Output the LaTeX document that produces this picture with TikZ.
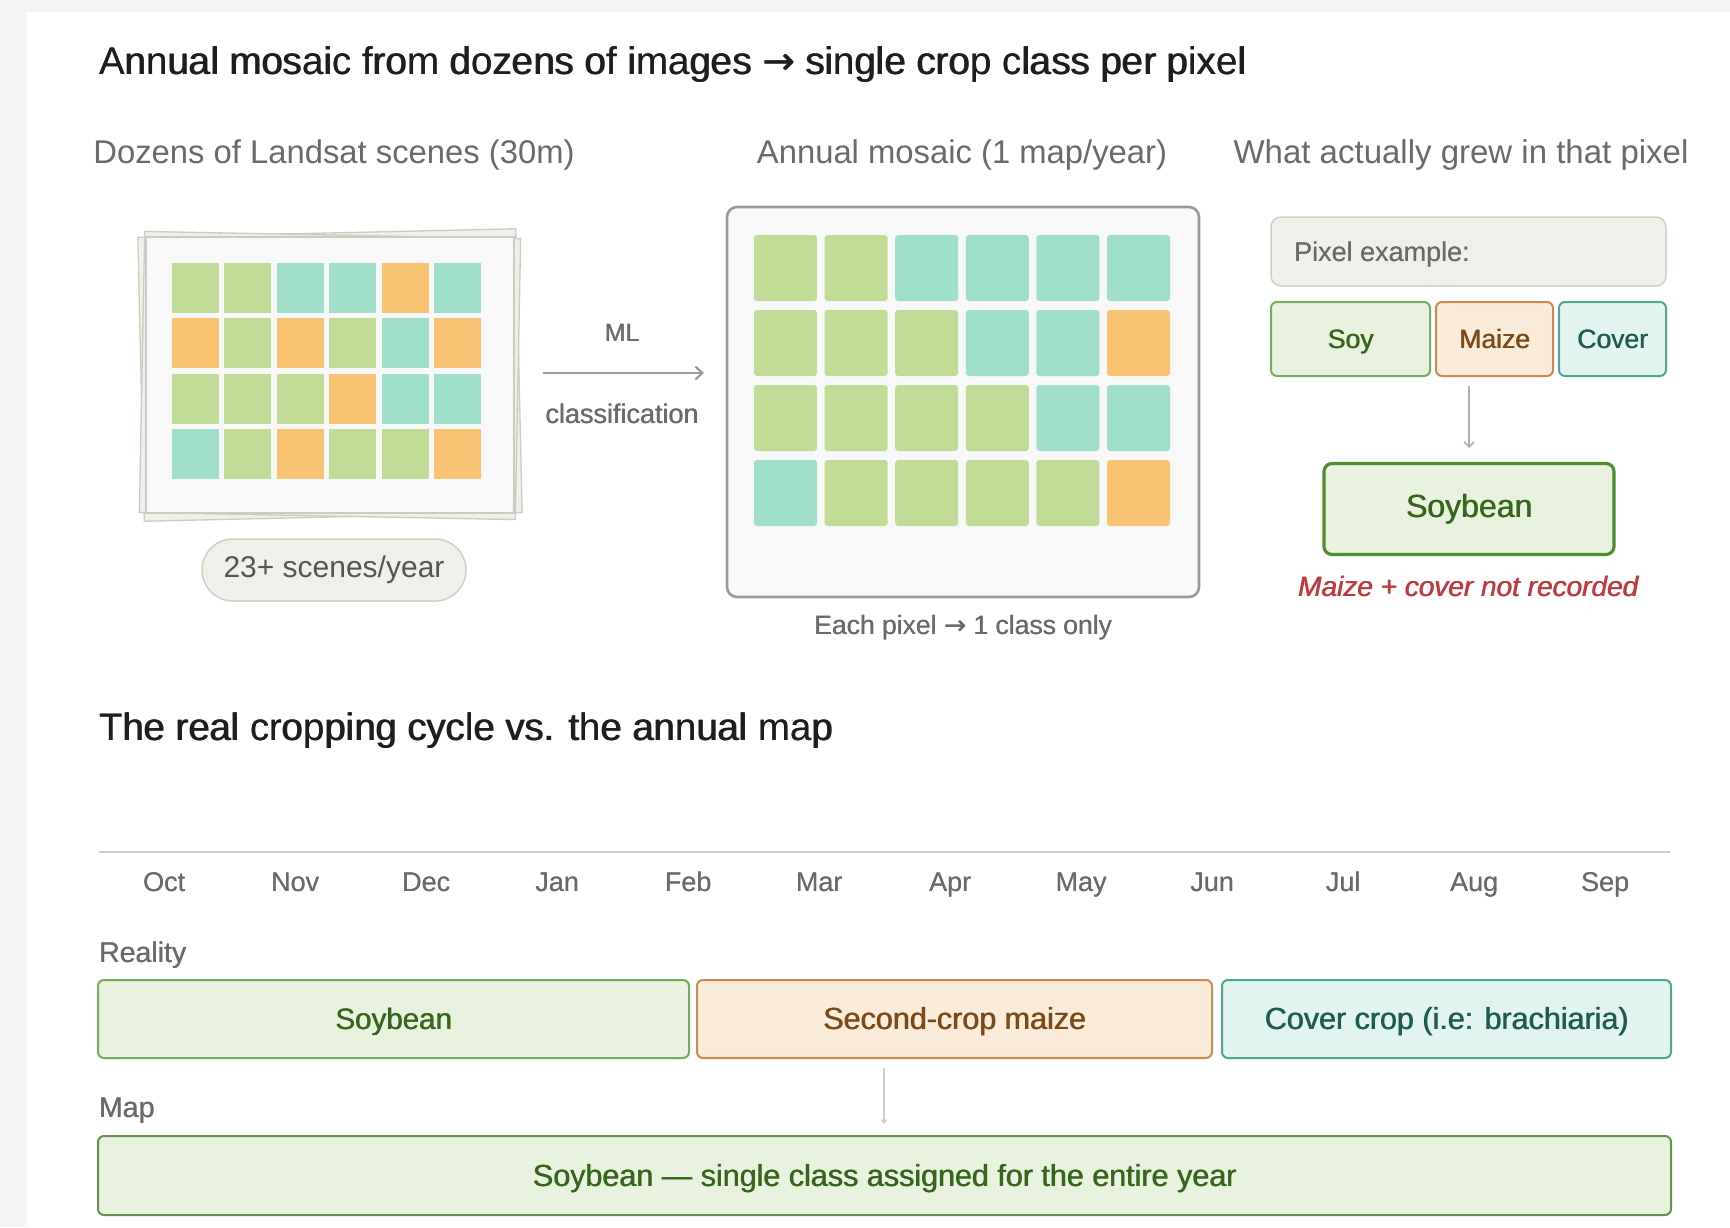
\documentclass[tikz,border=0pt]{standalone}
\usepackage{fontspec}
\setmainfont{Liberation Sans}
\newfontface\arrowfont{DejaVu Sans}
\newcommand{\rarr}{{\arrowfont →}}
\newcommand{\md}[1]{\rlap{\kern0.7pt #1}#1}
\newcommand{\mdl}[1]{\rlap{\kern0.45pt #1}#1}
\usetikzlibrary{arrows.meta}
\newcommand{\fs}[1]{\fontsize{#1}{#1}\selectfont}
\definecolor{bgout}{HTML}{F4F4F3}
\definecolor{cG}{HTML}{C0DC96}
\definecolor{cT}{HTML}{A0E0CA}
\definecolor{cO}{HTML}{F8C474}
\definecolor{tdark}{HTML}{1E1E1E}
\definecolor{tgray}{HTML}{6A6A6A}
\definecolor{cardfill}{HTML}{F8F8F8}
\definecolor{cardline}{HTML}{CFCAC2}
\definecolor{boxline}{HTML}{9A9A9A}
\definecolor{beigefill}{HTML}{F1EFE9}
\definecolor{beigeline}{HTML}{D3CFC6}
\definecolor{soyfill}{HTML}{E9F2DE}
\definecolor{soyline}{HTML}{74AE5C}
\definecolor{soydark}{HTML}{4E8E2E}
\definecolor{soytext}{HTML}{36661C}
\definecolor{maizefill}{HTML}{FBECD9}
\definecolor{maizeline}{HTML}{CC8A50}
\definecolor{maizetext}{HTML}{7A4A18}
\definecolor{coverfill}{HTML}{E1F4EF}
\definecolor{coverline}{HTML}{55A594}
\definecolor{covertext}{HTML}{1F5C50}
\definecolor{redtext}{HTML}{BE3A3C}
\definecolor{arrgray}{HTML}{9C9C9C}
\definecolor{linegray}{HTML}{CDCDCD}
\begin{document}
\begin{tikzpicture}[x=1pt,y=-1pt,
  every node/.style={inner sep=0pt, outer sep=0pt},
  lbl/.style={text=tgray},
  soybox/.style={draw=soyline, fill=soyfill, line width=2pt, rounded corners=6pt, text=soytext},
  maizebox/.style={draw=maizeline, fill=maizefill, line width=2pt, rounded corners=6pt, text=maizetext},
  coverbox/.style={draw=coverline, fill=coverfill, line width=2pt, rounded corners=6pt, text=covertext},
  arr/.style={draw=arrgray, line width=2.2pt, -{Straight Barb[length=7pt,width=13pt,line width=2.2pt]}},
  thinarr/.style={draw=linegray, line width=1.6pt, -{Straight Barb[length=3pt,width=5pt]}}
]
\useasboundingbox (0,0) rectangle (1730,1227);
\fill[bgout] (0,0) rectangle (1730,1227);
\fill[white] (27,12) rectangle (1730,1227);

% ---- title and sub-headings
\node[anchor=mid west, text=tdark, font=\fs{38.5}] (title) at (99,72)
  {\md{Annual mosaic from dozens of images \rarr{} single crop class per pixel}};
\node[lbl, anchor=mid, font=\fs{32.8}] (h1) at (334,161) {Dozens of Landsat scenes (30m)};
\node[lbl, anchor=mid, font=\fs{32.8}] (h2) at (962,161) {Annual mosaic (1 map/year)};
\node[lbl, anchor=mid, font=\fs{33}] (h3) at (1461,161) {What actually grew in that pixel};

% ---- stack of scenes
\draw[cardline, fill=beigefill, line width=1.3pt, rotate around={1.3:(330,375)}] (141,233) rectangle (519,517);
\draw[cardline, fill=beigefill, line width=1.3pt, rotate around={-1.1:(330,375)}] (142,235) rectangle (518,516);
\node[draw=cardline, fill=cardfill, line width=1.3pt, minimum width=368pt, minimum height=276pt] (scenes) at (330,375) {};
\foreach \row [count=\j from 0] in {{G,G,T,T,O,T},{O,G,O,G,T,O},{G,G,G,O,T,T},{T,G,O,G,G,O}}{
  \foreach \c [count=\i from 0] in \row {
    \fill[c\c] ({172+52.4*\i},{263+55.4*\j}) rectangle ++(47,50);
  }
}
\node[draw=beigeline, fill=beigefill, line width=1.5pt, rounded corners=31pt,
  minimum width=264pt, minimum height=62pt, text=tgray!80!black, font=\fs{30}] (badge) at (334,570) {23+ scenes/year};

% ---- ML arrow
\coordinate (mlA) at (543,373);
\coordinate (mlB) at (704,373);
\draw[arr] (mlA) -- (mlB);
\node[lbl, font=\fs{25}, anchor=mid] (ml) at (622,339) {\mdl{ML}};
\node[lbl, font=\fs{27}, anchor=mid] (cls) at (622,421) {\mdl{classification}};

% ---- annual mosaic
\node[draw=boxline, fill=cardfill, line width=2.6pt, rounded corners=10pt,
  minimum width=472pt, minimum height=390pt] (mosaic) at (963,402) {};
\foreach \row [count=\j from 0] in {{G,G,T,T,T,T},{G,G,G,T,T,O},{G,G,G,G,T,T},{T,G,G,G,G,O}}{
  \foreach \c [count=\i from 0] in \row {
    \fill[c\c, rounded corners=3pt] ({754+70.6*\i},{235+75*\j}) rectangle ++(63,66);
  }
}
\node[lbl, font=\fs{26.5}, anchor=mid] (each) at (963,632) {\mdl{Each pixel \rarr{} 1 class only}};

% ---- pixel example
\node[draw=beigeline, fill=beigefill, line width=1.5pt, rounded corners=10pt,
  minimum width=395pt, minimum height=69pt] (pix) at (1468.5,251.5) {};
\node[lbl, font=\fs{27}, anchor=mid west] (pixt) at (1294,259) {\mdl{Pixel example:}};
\node[soybox, minimum width=159pt, minimum height=74pt, text height=19pt, text depth=0pt, font=\fs{26.5}] (soy) at (1350.5,339) {\md{Soy}};
\node[maizebox, minimum width=117pt, minimum height=74pt, text height=19pt, text depth=0pt, font=\fs{26.5}] (maize) at (1494.5,339) {\md{Maize}};
\node[coverbox, minimum width=107pt, minimum height=74pt, text height=19pt, text depth=0pt, font=\fs{26.5}] (cover) at (1612.5,339) {\md{Cover}};
\node[soybox, draw=soydark, line width=3.2pt, rounded corners=8pt, minimum width=290pt, minimum height=91pt,
  font=\fs{32}] (soybig) at (1469,509) {\md{Soybean}};
\coordinate (pxA) at (1469,386);
\coordinate (pxB) at (1469,448);
\draw[draw=arrgray!80, line width=1.6pt, -{Straight Barb[length=5pt,width=10pt,line width=1.6pt]}] (pxA) -- (pxB);
\node[text=redtext, font=\itshape\fs{28}, anchor=mid] (lost) at (1468,594) {\md{Maize + cover not recorded}};

% ---- second part
\node[anchor=mid west, text=tdark, font=\fs{38.3}] (title2) at (99,738) {\md{The real cropping cycle vs. the annual map}};
\coordinate (tlA) at (99,852);
\coordinate (tlB) at (1670,852);
\draw[linegray, line width=2.6pt] (tlA) -- (tlB);
\foreach \m [count=\i from 0] in {Oct,Nov,Dec,Jan,Feb,Mar,Apr,May,Jun,Jul,Aug,Sep}{
  \node[lbl, font=\fs{27}, anchor=mid] (m\i) at ({164+131*\i},889) {\mdl{\m}};
}
\node[lbl, font=\fs{28.5}, anchor=mid west] (reality) at (99,960) {\mdl{Reality}};
\node[soybox, minimum width=591pt, minimum height=78pt, text height=21.5pt, text depth=0pt, font=\fs{29.5}] (rsoy) at (393.5,1019) {\md{Soybean}};
\node[maizebox, minimum width=515pt, minimum height=78pt, text height=21.5pt, text depth=0pt, font=\fs{30.5}] (rmaize) at (954.5,1019) {\md{Second-crop maize}};
\node[coverbox, minimum width=449pt, minimum height=78pt, text height=21.5pt, text depth=0pt, font=\fs{30.5}] (rcover) at (1446.5,1019) {\md{Cover crop (i.e: brachiaria)}};
\node[lbl, font=\fs{28.5}, anchor=mid west] (maplbl) at (99,1115) {\mdl{Map}};
\coordinate (mpA) at (884,1068);
\coordinate (mpB) at (884,1124);
\draw[thinarr] (mpA) -- (mpB);
\node[soybox, draw=soyline!85!black, minimum width=1573pt, minimum height=79pt, text height=22pt, text depth=0pt, font=\fs{30.5}] (mapbar) at (884.5,1175.5)
  {\md{Soybean — single class assigned for the entire year}};
\end{tikzpicture}
\end{document}
